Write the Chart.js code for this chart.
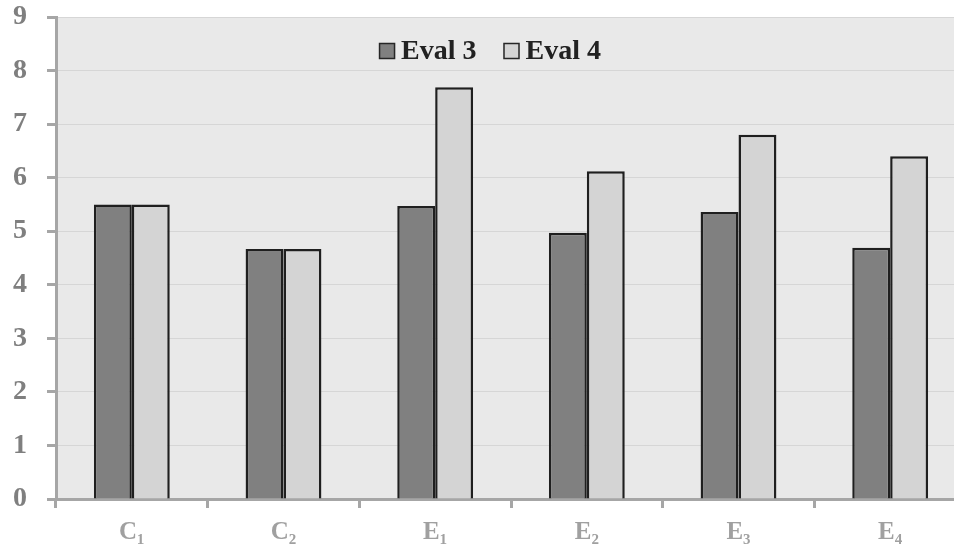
<!DOCTYPE html>
<html>
<head>
<meta charset="utf-8">
<script src="https://cdn.jsdelivr.net/npm/chart.js@4.4.1/dist/chart.umd.min.js"></script>
<style>
html,body{margin:0;padding:0;background:#fff;overflow:hidden;}
#wrap{width:966px;height:554px;}
</style>
</head>
<body>
<div id="wrap"><canvas id="c" width="966" height="554"></canvas></div>
<script>
const categories = ['C\u2081', 'C\u2082', 'E\u2081', 'E\u2082', 'E\u2083', 'E\u2084'];
const eval3 = [5.5, 4.67, 5.47, 4.97, 5.36, 4.69];
const eval4 = [5.5, 4.67, 7.69, 6.12, 6.80, 6.40];
const seriesNames = ['Eval 3', 'Eval 4'];
const yTicks = [0, 1, 2, 3, 4, 5, 6, 7, 8, 9];

const plotBg = {
  id: 'plotBg',
  beforeDraw(chart) {
    const a = chart.chartArea, ctx = chart.ctx;
    ctx.save();
    ctx.fillStyle = '#e9e9e9';
    ctx.fillRect(a.left, a.top, a.right - a.left, a.bottom - a.top);
    ctx.restore();
  }
};

// Legend drawn inside the plot area, near the top centre
const insideLegend = {
  id: 'insideLegend',
  afterDatasetsDraw(chart) {
    const ctx = chart.ctx;
    const a = chart.chartArea;
    ctx.save();
    ctx.font = 'bold 28px "Liberation Serif", serif';
    ctx.textBaseline = 'middle';
    ctx.textAlign = 'left';
    const box = 16, gapText = 6, gapItem = 27;
    const ds = chart.data.datasets;
    let total = 0;
    ds.forEach((d, i) => {
      total += box + gapText + ctx.measureText(d.label).width + (i < ds.length - 1 ? gapItem : 0);
    });
    let x = (a.left + a.right) / 2 - 21 - total / 2;
    const cy = a.top + 34;
    ds.forEach((d) => {
      ctx.fillStyle = d.backgroundColor;
      ctx.fillRect(x, cy - box / 2, box, box);
      ctx.lineWidth = 1.5;
      ctx.strokeStyle = '#262626';
      ctx.strokeRect(x + 0.5, cy - box / 2 + 0.5, box - 1, box - 1);
      x += box + gapText;
      ctx.fillStyle = '#222';
      ctx.fillText(d.label, x, cy + 1);
      x += ctx.measureText(d.label).width + gapItem;
    });
    ctx.restore();
  }
};

new Chart(document.getElementById('c'), {
  type: 'bar',
  data: {
    labels: categories,
    datasets: [
      { label: seriesNames[0], data: eval3, backgroundColor: '#808080', borderColor: '#1f1f1f', borderWidth: 2.5, categoryPercentage: 0.5, barPercentage: 1.0 },
      { label: seriesNames[1], data: eval4, backgroundColor: '#d4d4d4', borderColor: '#1f1f1f', borderWidth: 2.5, categoryPercentage: 0.5, barPercentage: 1.0 }
    ]
  },
  options: {
    responsive: false,
    animation: false,
    devicePixelRatio: 1,
    layout: { padding: { top: 0, left: 0, right: 0, bottom: 0 } },
    plugins: {
      tooltip: { enabled: false },
      legend: { display: false }
    },
    scales: {
      x: {
        afterFit(s) { s.height = 55; s.paddingLeft = 0; s.paddingRight = 0; },
        grid: { offset: true, drawOnChartArea: false, tickLength: 9, tickColor: '#a6a6a6', tickWidth: 3 },
        border: { color: '#a6a6a6', width: 3 },
        ticks: { color: '#a0a0a0', padding: 10, font: { family: '"Liberation Serif", serif', weight: 'bold', size: 25 } }
      },
      y: {
        min: 0, max: 9,
        afterFit(s) { s.width = 56; s.paddingTop = 17; s.paddingBottom = 0; },
        afterBuildTicks(s) { s.ticks = yTicks.map(v => ({ value: v })); },
        grid: { color: '#d6d6d6', lineWidth: 1, tickLength: 9, tickColor: '#a6a6a6', tickWidth: 3 },
        border: { color: '#a6a6a6', width: 3 },
        ticks: { stepSize: 1, color: '#7f7f7f', padding: 20, font: { family: '"Liberation Serif", serif', weight: 'bold', size: 28, lineHeight: 1.2 } }
      }
    }
  },
  plugins: [plotBg, insideLegend]
});
</script>
</body>
</html>
